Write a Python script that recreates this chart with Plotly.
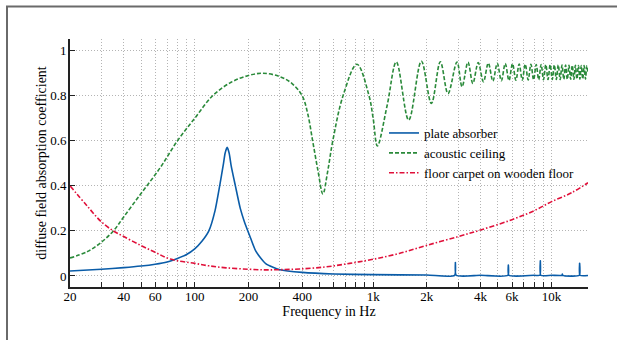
import plotly.graph_objects as go

# ---- data ----
plate_f = [20, 30, 40, 50, 60, 70, 80, 90, 100, 110, 120, 130, 138, 145, 148, 152, 156, 160, 169, 180, 190, 203, 220, 250, 300, 400, 600, 1000, 2000,
           2860, 2890, 2920, 4000, 5690, 5724, 5760, 8000, 8600, 8650, 8700, 10000, 11430, 11490, 11550, 14300, 14360, 14420, 16000]
plate_a = [0.022, 0.03, 0.037, 0.044, 0.052, 0.062, 0.078, 0.095, 0.12, 0.155, 0.2, 0.29, 0.4, 0.5, 0.545, 0.571, 0.545, 0.49, 0.4, 0.3, 0.24, 0.18, 0.11, 0.055, 0.028, 0.016, 0.009, 0.006, 0.004,
           0.003, 0.06, 0.003, 0.003, 0.003, 0.049, 0.003, 0.003, 0.003, 0.067, 0.003, 0.003, 0.003, 0.009, 0.003, 0.003, 0.056, 0.003, 0.002]

ceiling_f = [20, 25, 30, 35, 40, 50, 64, 80, 100, 126, 160, 200, 240, 300, 350, 400, 430, 458, 490, 523, 555, 594, 678, 811, 948, 1000, 1056, 1200, 1349,
             1582, 1863, 2120, 2380, 2627, 2950, 3149, 3400, 3620, 3880, 4150, 4420, 4690, 4960, 5230, 5500, 5770, 6040, 6310, 6580, 6850, 7120,
             7390, 7660, 7930, 8200, 8470, 8740, 9010, 9280, 9550, 9820, 10090, 10360, 10630, 10900, 11170, 11440, 11710, 11980, 12250, 12520,
             12790, 13060, 13330, 13600, 13870, 14140, 14410, 14680, 14950, 15220, 15490, 15760, 16000]
ceiling_a = [0.08, 0.108, 0.15, 0.2, 0.262, 0.366, 0.48, 0.6, 0.7, 0.8, 0.86, 0.89, 0.9, 0.885, 0.855, 0.8, 0.72, 0.6, 0.47, 0.364, 0.46, 0.6, 0.8, 0.94, 0.8, 0.7, 0.577, 0.76, 0.95,
             0.692, 0.953, 0.766, 0.951, 0.81, 0.95, 0.84, 0.949, 0.855, 0.947, 0.862, 0.945, 0.865, 0.944, 0.867, 0.943, 0.868, 0.942, 0.869, 0.941, 0.87, 0.94,
             0.87, 0.94, 0.871, 0.939, 0.871, 0.939, 0.871, 0.938, 0.872, 0.938, 0.872, 0.937, 0.872, 0.937, 0.872, 0.936, 0.873, 0.936, 0.873, 0.935,
             0.873, 0.935, 0.873, 0.935, 0.874, 0.934, 0.874, 0.934, 0.874, 0.934, 0.874, 0.933, 0.9]

carpet_f = [20, 25, 30, 35, 40, 50, 60, 73, 100, 120, 150, 200, 250, 300, 387, 540, 738, 1000, 1400, 2000, 3000, 4000, 6000, 8000, 10000, 13000, 16000]
carpet_a = [0.40, 0.31, 0.24, 0.2, 0.175, 0.135, 0.105, 0.075, 0.056, 0.045, 0.036, 0.03, 0.027, 0.028, 0.031, 0.04, 0.056, 0.074, 0.1, 0.136, 0.175, 0.204, 0.25, 0.29, 0.33, 0.37, 0.414]

x_tickvals = [20, 40, 60, 100, 200, 400, 1000, 2000, 4000, 6000, 10000]
x_ticktext = ["20", "40", "60", "100", "200", "400", "1k", "2k", "4k", "6k", "10k"]
x_minor = [30, 50, 70, 80, 90, 300, 500, 600, 700, 800, 900, 3000, 5000, 7000, 8000, 9000]
y_tickvals = [0, 0.2, 0.4, 0.6, 0.8, 1]
y_ticktext = ["0", "0.2", "0.4", "0.6", "0.8", "1"]

FONT = "Liberation Serif"
GRID = "#b4b4b4"
GDASH = "1px,2px"

fig = go.Figure()
fig.add_trace(go.Scatter(x=plate_f, y=plate_a, mode="lines", name="plate absorber",
                         line=dict(color="#0a5ca8", width=1.6, shape="spline", smoothing=0.6)))
fig.add_trace(go.Scatter(x=ceiling_f, y=ceiling_a, mode="lines", name="acoustic ceiling",
                         line=dict(color="#2a8a3a", width=1.6, dash="4px,2px", shape="spline", smoothing=1)))
fig.add_trace(go.Scatter(x=carpet_f, y=carpet_a, mode="lines", name="floor carpet on wooden floor",
                         line=dict(color="#e0103a", width=1.6, dash="5px,2px,1.5px,2px", shape="spline", smoothing=1)))

L, R, T, B = 70, 29, 39, 53
W, H = 617, 340
pw, ph = W - L - R, H - T - B

def px(x):
    return (x - L) / pw

def py(y):
    return (H - B - y) / ph

fig.update_layout(
    width=W, height=H,
    margin=dict(l=L, r=R, t=T, b=B),
    paper_bgcolor="white", plot_bgcolor="white",
    font=dict(family=FONT, size=13, color="#000"),
    showlegend=True,
    legend=dict(x=px(384), y=py(118), xanchor="left", yanchor="top",
                bgcolor="rgba(0,0,0,0)", borderwidth=0, font=dict(family=FONT, size=13, color="#000"),
                tracegroupgap=0),
    xaxis=dict(type="log", range=[1.30103, 4.2041],
               tickmode="array", tickvals=x_tickvals, ticktext=x_ticktext,
               ticks="inside", ticklen=5, tickcolor="#222", tickwidth=1, ticklabelstandoff=-4,
               showgrid=True, gridcolor=GRID, griddash=GDASH, gridwidth=1,
               minor=dict(tickmode="array", tickvals=x_minor, ticks="inside", ticklen=5, tickcolor="#222",
                          showgrid=True, gridcolor=GRID, griddash=GDASH, gridwidth=1),
               showline=True, linecolor="#222", linewidth=2, zeroline=False,
               title=dict(text="Frequency in Hz", standoff=1, font=dict(family=FONT, size=14)),
               tickfont=dict(family=FONT, size=13, color="#000")),
    yaxis=dict(range=[-0.049, 1.052],
               tickmode="array", tickvals=y_tickvals, ticktext=y_ticktext,
               ticks="inside", ticklen=5, tickcolor="#222", tickwidth=1, ticklabelstandoff=-1,
               showgrid=True, gridcolor=GRID, griddash=GDASH, gridwidth=1,
               showline=True, linecolor="#222", linewidth=2, zeroline=False,
               title=dict(text="diffuse field absorption coefficient", standoff=0, font=dict(family=FONT, size=14)),
               tickfont=dict(family=FONT, size=13, color="#000")),
    shapes=[
        dict(type="line", xref="paper", yref="paper", x0=px(6), x1=px(617), y0=py(6.5), y1=py(6.5),
             line=dict(color="#6a6a6a", width=2)),
        dict(type="line", xref="paper", yref="paper", x0=px(7), x1=px(7), y0=py(6.5), y1=py(340),
             line=dict(color="#6a6a6a", width=2)),
    ],
)

fig.write_html("out.html")
